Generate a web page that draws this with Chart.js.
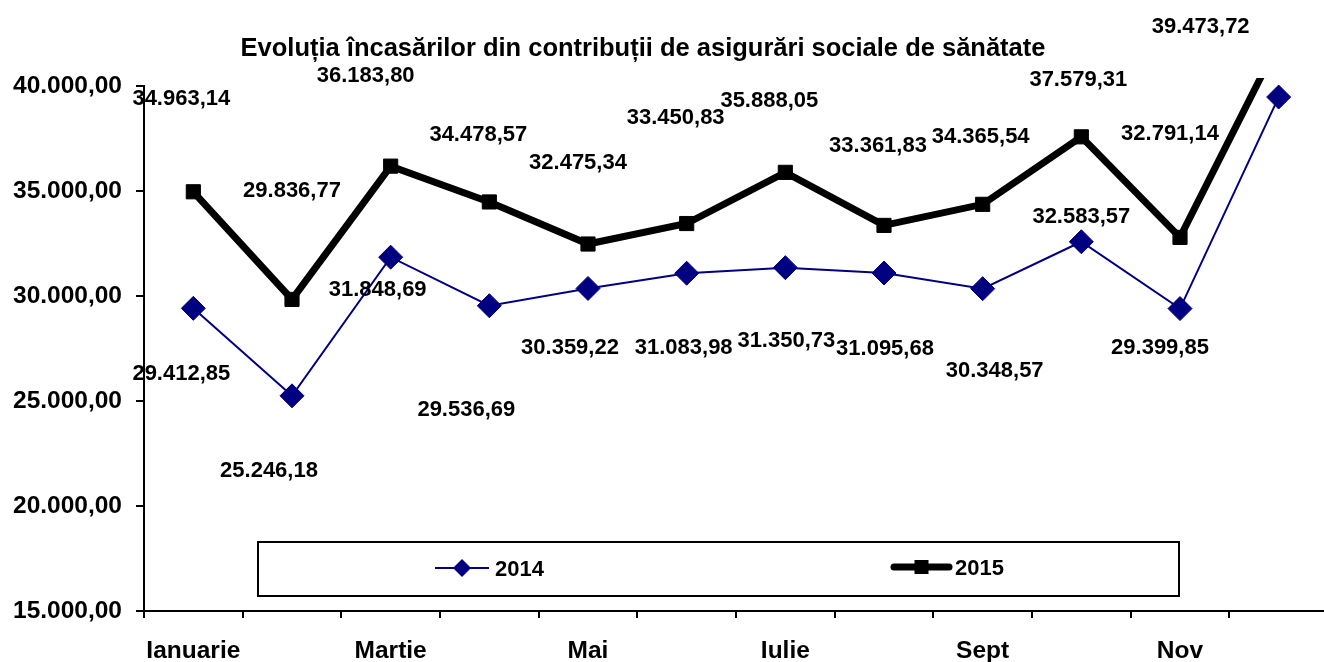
<!DOCTYPE html>
<html><head><meta charset="utf-8">
<script src="https://cdn.jsdelivr.net/npm/chart.js@4.4.1/dist/chart.umd.min.js"></script>
<style>
html,body{margin:0;padding:0;background:#fff;overflow:hidden;width:1324px;height:662px}
#wrap{position:relative;width:1324px;height:662px}
canvas{display:block}
</style></head>
<body><div id="wrap"><canvas id="c" width="1324" height="662" style="width:1324px;height:662px"></canvas></div>
<script>
// ---- data ----
const chartTitle = 'Evoluția încasărilor din contribuții de asigurări sociale de sănătate';
const months = ['Ianuarie','Februarie','Martie','Aprilie','Mai','Iunie','Iulie','August','Sept','Oct','Nov','Dec'];
const seriesNames = ['2014','2015'];
const values2014 = [29412.85, 25246.18, 31848.69, 29536.69, 30359.22, 31083.98, 31350.73, 31095.68, 30348.57, 32583.57, 29399.85, 39473.72];
const values2015 = [34963.14, 29836.77, 36183.80, 34478.57, 32475.34, 33450.83, 35888.05, 33361.83, 34365.54, 37579.31, 32791.14, 42100.00];
const yTicks = [15000, 20000, 25000, 30000, 35000, 40000];

// ---- helpers ----
const FONT = "'Liberation Sans', Arial, sans-serif";
function fmt(v){
  const p = Number(v).toFixed(2).split('.');
  return p[0].replace(/\B(?=(\d{3})+(?!\d))/g, '.') + ',' + p[1];
}

// plot area in the original runs a few pixels past the right edge of the picture
const plotOverhang = {
  id: 'plotOverhang',
  afterLayout(chart, args, opts){
    const x = chart.scales.x;
    const r = chart.width + opts.px;
    x.right = r;
    x.width = r - x.left;
    x.configure();
    x._labelItems = null;
    x._gridLineItems = null;
    chart.chartArea.right = r;
    chart.chartArea.width = r - chart.chartArea.left;
  }
};

const pointLabels = {
  id: 'pointLabels',
  afterDatasetsDraw(chart, args, opts){
    const ctx = chart.ctx;
    ctx.save();
    ctx.font = 'bold ' + opts.size + 'px ' + FONT;
    ctx.fillStyle = '#000';
    ctx.textAlign = 'center';
    ctx.textBaseline = 'alphabetic';
    chart.data.datasets.forEach((ds, di) => {
      const meta = chart.getDatasetMeta(di);
      meta.data.forEach((pt, i) => {
        const off = opts.offsets[di][i];
        if (!off) return;
        ctx.fillText(fmt(ds.data[i]), pt.x + off[0], pt.y + off[1] + opts.size * 0.358);
      });
    });
    ctx.restore();
  }
};

const decor = {
  id: 'decor',
  afterDraw(chart, args, opts){
    const ctx = chart.ctx;
    ctx.save();
    // title
    ctx.font = 'bold ' + opts.titleSize + 'px ' + FONT;
    ctx.fillStyle = '#000';
    ctx.textAlign = 'center';
    ctx.textBaseline = 'alphabetic';
    ctx.fillText(chartTitle, opts.titleX, opts.titleY + opts.titleSize * 0.358);
    // legend box
    const b = opts.legendBox;
    ctx.fillStyle = '#fff';
    ctx.fillRect(b.x, b.y, b.w, b.h);
    ctx.strokeStyle = '#000';
    ctx.lineWidth = 2;
    ctx.strokeRect(b.x, b.y, b.w, b.h);
    const ds = chart.data.datasets;
    opts.legendItems.forEach((it, k) => {
      const d = ds[k];
      ctx.strokeStyle = d.borderColor;
      ctx.lineWidth = d.borderWidth;
      ctx.lineCap = k === 1 ? 'round' : 'butt';
      ctx.beginPath();
      ctx.moveTo(it.x0, it.y); ctx.lineTo(it.x1, it.y); ctx.stroke();
      const cx = (it.x0 + it.x1) / 2;
      ctx.fillStyle = d.backgroundColor;
      ctx.beginPath();
      if (d.pointStyle === 'rectRot') {
        const s = 9;
        ctx.moveTo(cx - s, it.y); ctx.lineTo(cx, it.y - s); ctx.lineTo(cx + s, it.y); ctx.lineTo(cx, it.y + s);
        ctx.closePath();
      } else {
        ctx.rect(cx - 7, it.y - 7, 14, 14);
      }
      ctx.fill();
      ctx.fillStyle = '#000';
      ctx.font = 'bold ' + opts.legendSize + 'px ' + FONT;
      ctx.textAlign = 'left';
      ctx.fillText(d.label, it.tx, it.y + opts.legendSize * 0.358);
    });
    ctx.restore();
  }
};

new Chart(document.getElementById('c'), {
  type: 'line',
  data: {
    labels: months,
    datasets: [
      { label: seriesNames[0], data: values2014, borderColor: '#000080', backgroundColor: '#000080',
        borderWidth: 2, pointStyle: 'rectRot', pointRadius: 12, pointHoverRadius: 12, pointBorderWidth: 1,
        tension: 0, clip: {left: 0, top: 8, right: 0, bottom: 0} },
      { label: seriesNames[1], data: values2015, borderColor: '#000000', backgroundColor: '#000000',
        borderWidth: 7, pointStyle: 'rect', pointRadius: 10, pointHoverRadius: 10, pointBorderWidth: 1,
        tension: 0, clip: {left: 0, top: 8, right: 0, bottom: 0} }
    ]
  },
  options: {
    responsive: false, maintainAspectRatio: false, animation: false, devicePixelRatio: 1,
    events: [],
    layout: { padding: { left: 0, right: 0, top: 86, bottom: 0 } },
    plugins: {
      legend: { display: false },
      title: { display: false },
      tooltip: { enabled: false },
      plotOverhang: { px: 4 },
      pointLabels: {
        size: 22,
        offsets: [
          [[-12,64],[-23,73],[-13,31],[-23,102],[-18,58],[-3,73],[1,71],[1,74],[12,80],[0,-27],[-20,38],[-78,-72]],
          [[-12,-95],[0,-110],[-25,-92],[-11,-69],[-10,-83],[-11,-107],[-16,-73],[-6,-81],[-2,-69],[-3,-59],[-10,-105],null]
        ]
      },
      decor: {
        titleSize: 25.5, titleX: 643, titleY: 46.5,
        legendSize: 22,
        legendBox: { x: 258, y: 542, w: 921, h: 54 },
        legendItems: [ { x0: 435, x1: 489, y: 568, tx: 495 }, { x0: 894, x1: 949, y: 567, tx: 955 } ]
      }
    },
    scales: {
      x: {
        type: 'category', offset: true,
        grid: { offset: true, drawOnChartArea: false, drawTicks: true, tickLength: 7, color: '#000', lineWidth: 2 },
        border: { display: true, color: '#000', width: 2 },
        ticks: { autoSkip: false, maxRotation: 0, minRotation: 0, padding: 19, color: '#000',
          font: { family: FONT, size: 24.5, weight: 'bold' },
          callback: (v, i) => (i % 2 === 0 ? months[i] : '') },
        afterFit(s){ s.height = 51; }
      },
      y: {
        min: 15000, max: 40000,
        afterBuildTicks(s){ s.ticks = yTicks.map(v => ({ value: v })); },
        grid: { drawOnChartArea: false, drawTicks: true, tickLength: 8, color: '#000', lineWidth: 2 },
        border: { display: true, color: '#000', width: 2 },
        ticks: { padding: 14, color: '#000', font: { family: FONT, size: 24.5, weight: 'bold' },
          callback: v => fmt(v) },
        afterFit(s){ s.width = 144; }
      }
    }
  },
  plugins: [plotOverhang, pointLabels, decor]
});
</script>
</body></html>
